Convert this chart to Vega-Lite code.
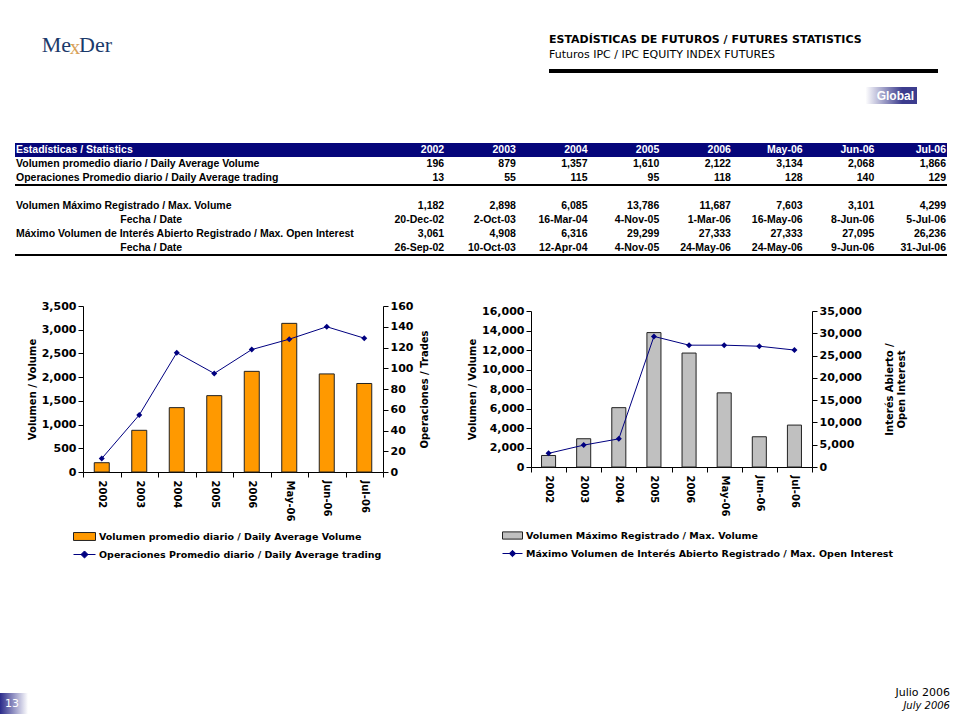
{
  "$schema": "https://vega.github.io/schema/vega-lite/v6.json",
  "background": "white",
  "padding": {"left": 0, "top": 34, "right": 0, "bottom": 0},
  "config": {
    "view": {"stroke": null},
    "font": "DejaVu Sans",
    "axis": {"labelFont": "DejaVu Sans", "labelFontWeight": "bold", "labelFontSize": 11, "labelColor": "black", "titleFont": "DejaVu Sans", "titleFontWeight": "bold", "titleFontSize": 10, "titleColor": "black", "domainColor": "black", "tickColor": "black", "tickSize": 5, "grid": false, "labelPadding": 2, "titlePadding": 4},
    "legend": {"labelFont": "DejaVu Sans", "labelFontWeight": "bold", "labelFontSize": 9.5, "labelColor": "black", "padding": 0, "labelOffset": 3, "labelLimit": 600}
  },
  "datasets": {
    "stats": [
      {"cat": "2002", "vol": 196, "ops": 13, "maxvol": 1182, "maxoi": 3061},
      {"cat": "2003", "vol": 879, "ops": 55, "maxvol": 2898, "maxoi": 4908},
      {"cat": "2004", "vol": 1357, "ops": 115, "maxvol": 6085, "maxoi": 6316},
      {"cat": "2005", "vol": 1610, "ops": 95, "maxvol": 13786, "maxoi": 29299},
      {"cat": "2006", "vol": 2122, "ops": 118, "maxvol": 11687, "maxoi": 27333},
      {"cat": "May-06", "vol": 3134, "ops": 128, "maxvol": 7603, "maxoi": 27333},
      {"cat": "Jun-06", "vol": 2068, "ops": 140, "maxvol": 3101, "maxoi": 27095},
      {"cat": "Jul-06", "vol": 1866, "ops": 129, "maxvol": 4299, "maxoi": 26236}
    ],
    "tbl": [
      {"row": "h", "lab": "Estadísticas / Statistics", "2002": "2002", "2003": "2003", "2004": "2004", "2005": "2005", "2006": "2006", "May-06": "May-06", "Jun-06": "Jun-06", "Jul-06": "Jul-06"},
      {"row": "r1", "lab": "Volumen promedio diario / Daily Average Volume", "2002": "196", "2003": "879", "2004": "1,357", "2005": "1,610", "2006": "2,122", "May-06": "3,134", "Jun-06": "2,068", "Jul-06": "1,866"},
      {"row": "r2", "lab": "Operaciones Promedio diario / Daily Average trading", "2002": "13", "2003": "55", "2004": "115", "2005": "95", "2006": "118", "May-06": "128", "Jun-06": "140", "Jul-06": "129"},
      {"row": "r3", "lab": "Volumen Máximo Registrado / Max. Volume", "2002": "1,182", "2003": "2,898", "2004": "6,085", "2005": "13,786", "2006": "11,687", "May-06": "7,603", "Jun-06": "3,101", "Jul-06": "4,299"},
      {"row": "r4", "lab": "Fecha / Date", "2002": "20-Dec-02", "2003": "2-Oct-03", "2004": "16-Mar-04", "2005": "4-Nov-05", "2006": "1-Mar-06", "May-06": "16-May-06", "Jun-06": "8-Jun-06", "Jul-06": "5-Jul-06"},
      {"row": "r5", "lab": "Máximo Volumen de Interés Abierto Registrado / Max. Open Interest", "2002": "3,061", "2003": "4,908", "2004": "6,316", "2005": "29,299", "2006": "27,333", "May-06": "27,333", "Jun-06": "27,095", "Jul-06": "26,236"},
      {"row": "r6", "lab": "Fecha / Date", "2002": "26-Sep-02", "2003": "10-Oct-03", "2004": "12-Apr-04", "2005": "4-Nov-05", "2006": "24-May-06", "May-06": "24-May-06", "Jun-06": "9-Jun-06", "Jul-06": "31-Jul-06"}
    ]
  },
  "spacing": 39,
  "vconcat": [
    {
      "spacing": 399,
      "hconcat": [
        {
          "width": 150, "height": 24,
          "data": {"values": [{"a": "Me", "b": "x", "c": "Der"}]},
          "layer": [
            {"mark": {"type": "text", "font": "Liberation Serif", "fontSize": 22, "color": "#1B3A6B", "align": "right", "dx": -4, "dy": -36}, "encoding": {"text": {"field": "a"}}},
            {"mark": {"type": "text", "font": "Liberation Serif", "fontSize": 21, "color": "#D9A25A", "align": "center", "dy": -33}, "encoding": {"text": {"field": "b"}}},
            {"mark": {"type": "text", "font": "Liberation Serif", "fontSize": 22, "color": "#1B3A6B", "align": "left", "dx": 4, "dy": -36}, "encoding": {"text": {"field": "c"}}}
          ]
        },
        {
          "spacing": 14,
          "vconcat": [
            {
              "width": 389, "height": 4,
              "title": {"text": "ESTADÍSTICAS DE FUTUROS / FUTURES STATISTICS", "subtitle": "Futuros IPC / IPC EQUITY INDEX FUTURES", "anchor": "start", "font": "DejaVu Sans", "fontSize": 11, "fontWeight": "bold", "color": "black", "subtitleFont": "DejaVu Sans", "subtitleFontSize": 11, "subtitleColor": "black", "subtitlePadding": 4, "offset": 9},
              "data": {"values": [{"k": 1}]},
              "mark": {"type": "bar", "color": "black"},
              "encoding": {}
            },
            {
              "width": 368, "height": 17,
              "data": {"values": [{"t": "Global"}]},
              "layer": [
                {"mark": {"type": "bar", "color": {"gradient": "linear", "x1": 0, "y1": 0, "x2": 1, "y2": 0, "stops": [{"offset": 0, "color": "#ffffff"}, {"offset": 0.86, "color": "#ffffff"}, {"offset": 0.96, "color": "#3C3C8E"}, {"offset": 1, "color": "#3C3C8E"}]}}, "encoding": {}},
                {"mark": {"type": "text", "align": "right", "dx": -3, "color": "white", "fontWeight": "bold", "fontSize": 12, "font": "Liberation Sans"}, "encoding": {"x": {"value": "width"}, "text": {"field": "t"}}}
              ]
            }
          ]
        }
      ]
    },
    {
      "spacing": 44,
      "vconcat": [
        {
          "spacing": 13,
          "hconcat": [
            {"width": 1, "height": 1, "data": {"values": []}, "mark": "text", "encoding": {}},
            {
              "width": 932, "height": 112,
              "data": {"name": "tbl"},
              "encoding": {"y": {"field": "row", "type": "nominal", "scale": {"type": "band", "domain": ["h", "r1", "r2", "b", "r3", "r4", "r5", "r6"], "paddingInner": 0, "paddingOuter": 0}, "axis": null}},
              "layer": [
                {"transform": [{"filter": "datum.row === 'h'"}], "mark": {"type": "bar", "color": "#06067A"}},
                {"transform": [{"filter": "datum.row === 'r2' || datum.row === 'r6'"}], "mark": {"type": "rule", "strokeWidth": 2, "color": "black"}, "encoding": {"y": {"field": "row", "type": "nominal", "bandPosition": 1}}},
                {
                  "transform": [{"filter": "datum.row !== 'r4' && datum.row !== 'r6'"}],
                  "mark": {"type": "text", "align": "left", "dx": 1, "font": "Liberation Sans", "fontWeight": "bold", "fontSize": 10.5},
                  "encoding": {
                    "x": {"datum": "lab", "type": "nominal", "bandPosition": 0, "axis": null, "scale": {"type": "band", "domain": ["lab", "fecha", "s1", "s2", "s3", "2002", "2003", "2004", "2005", "2006", "May-06", "Jun-06", "Jul-06"], "paddingInner": 0, "paddingOuter": 0}},
                    "text": {"field": "lab"},
                    "color": {"condition": {"test": "datum.row === 'h'", "value": "white"}, "value": "black"}
                  }
                },
                {
                  "transform": [{"filter": "datum.row === 'r4' || datum.row === 'r6'"}],
                  "mark": {"type": "text", "align": "center", "font": "Liberation Sans", "fontWeight": "bold", "fontSize": 10.5, "color": "black"},
                  "encoding": {
                    "x": {"datum": "fecha", "type": "nominal", "bandPosition": 0.9, "axis": null, "scale": {"type": "band", "domain": ["lab", "fecha", "s1", "s2", "s3", "2002", "2003", "2004", "2005", "2006", "May-06", "Jun-06", "Jul-06"], "paddingInner": 0, "paddingOuter": 0}},
                    "text": {"field": "lab"}
                  }
                },
                {
                  "transform": [{"fold": ["2002", "2003", "2004", "2005", "2006", "May-06", "Jun-06", "Jul-06"], "as": ["col", "val"]}],
                  "mark": {"type": "text", "align": "right", "dx": -1, "font": "Liberation Sans", "fontWeight": "bold", "fontSize": 10.5},
                  "encoding": {
                    "x": {"field": "col", "type": "nominal", "bandPosition": 1, "axis": null, "scale": {"type": "band", "domain": ["lab", "fecha", "s1", "s2", "s3", "2002", "2003", "2004", "2005", "2006", "May-06", "Jun-06", "Jul-06"], "paddingInner": 0, "paddingOuter": 0}},
                    "text": {"field": "val"},
                    "color": {"condition": {"test": "datum.row === 'h'", "value": "white"}, "value": "black"}
                  }
                }
              ]
            }
          ]
        },
        {
          "spacing": 126,
          "vconcat": [
            {
              "spacing": 26,
              "hconcat": [
                {"width": 1, "height": 1, "data": {"values": []}, "mark": "text", "encoding": {}},
                {
                  "spacing": 37,
                  "resolve": {"scale": {"fill": "independent", "color": "independent", "x": "independent", "y": "independent"}, "legend": {"fill": "independent", "color": "independent"}},
                  "hconcat": [
                    {
                      "width": 300, "height": 166,
                      "data": {"name": "stats"},
                      "encoding": {"x": {"field": "cat", "type": "nominal", "sort": null, "scale": {"type": "band", "paddingInner": 0, "paddingOuter": 0}, "axis": {"title": null, "labelAngle": 90, "tickBand": "extent", "labelFontSize": 10, "labelPadding": 3}}},
                      "layer": [
                        {
                          "mark": {"type": "bar", "width": {"band": 0.4}, "stroke": "#222222", "strokeWidth": 1},
                          "encoding": {
                            "y": {"field": "vol", "type": "quantitative", "scale": {"domain": [0, 3500]}, "axis": {"title": "Volumen / Volume", "values": [0, 500, 1000, 1500, 2000, 2500, 3000, 3500], "format": ",d"}},
                            "fill": {"datum": "Volumen promedio diario / Daily Average Volume", "type": "nominal", "scale": {"range": ["#FF9900"]}, "legend": {"orient": "none", "legendX": -10, "legendY": 219, "title": null, "symbolType": "M-1,-0.36H1V0.36H-1Z", "symbolSize": 484, "symbolStrokeColor": "#222222", "symbolStrokeWidth": 1}}
                          }
                        },
                        {
                          "mark": {"type": "line", "strokeWidth": 1, "point": {"filled": true, "shape": "diamond", "size": 36}},
                          "encoding": {
                            "y": {"field": "ops", "type": "quantitative", "scale": {"domain": [0, 160]}, "axis": {"orient": "right", "title": "Operaciones / Trades", "values": [0, 20, 40, 60, 80, 100, 120, 140, 160], "format": "d", "titleAngle": 270, "titleBaseline": "top", "titlePadding": 7}},
                            "color": {"datum": "Operaciones Promedio diario / Daily Average trading", "type": "nominal", "scale": {"range": ["#000080"]}, "legend": {"orient": "none", "legendX": -10, "legendY": 237, "title": null, "symbolType": "M-1,0H1M0,-0.32L0.32,0L0,0.32L-0.32,0Z", "symbolSize": 484, "symbolStrokeWidth": 1, "symbolFillColor": "#000080"}}
                          }
                        }
                      ],
                      "resolve": {"scale": {"y": "independent"}}
                    },
                    {
                      "spacing": -2,
                      "resolve": {"scale": {"fill": "independent", "color": "independent"}, "legend": {"fill": "independent", "color": "independent"}},
                      "vconcat": [
                        {"width": 1, "height": 1, "data": {"values": []}, "mark": "text", "encoding": {}},
                        {
                          "width": 281, "height": 156,
                          "data": {"name": "stats"},
                          "encoding": {"x": {"field": "cat", "type": "nominal", "sort": null, "scale": {"type": "band", "paddingInner": 0, "paddingOuter": 0}, "axis": {"title": null, "labelAngle": 90, "tickBand": "extent", "labelFontSize": 10, "labelPadding": 3}}},
                          "layer": [
                            {
                              "mark": {"type": "bar", "width": {"band": 0.4}, "stroke": "#222222", "strokeWidth": 1},
                              "encoding": {
                                "y": {"field": "maxvol", "type": "quantitative", "scale": {"domain": [0, 16000]}, "axis": {"title": "Volumen / Volume", "values": [0, 2000, 4000, 6000, 8000, 10000, 12000, 14000, 16000], "format": ",d"}},
                                "fill": {"datum": "Volumen Máximo Registrado / Max. Volume", "type": "nominal", "scale": {"range": ["#C0C0C0"]}, "legend": {"orient": "none", "legendX": -29, "legendY": 214, "title": null, "symbolType": "M-1,-0.36H1V0.36H-1Z", "symbolSize": 400, "symbolStrokeColor": "#222222", "symbolStrokeWidth": 1}}
                              }
                            },
                            {
                              "mark": {"type": "line", "strokeWidth": 1, "point": {"filled": true, "shape": "diamond", "size": 36}},
                              "encoding": {
                                "y": {"field": "maxoi", "type": "quantitative", "scale": {"domain": [0, 35000]}, "axis": {"orient": "right", "title": ["Interés Abierto /", "Open Interest"], "values": [0, 5000, 10000, 15000, 20000, 25000, 30000, 35000], "format": ",d", "titleAngle": 270, "titleBaseline": "top", "titlePadding": 11}},
                                "color": {"datum": "Máximo Volumen de Interés Abierto Registrado / Max. Open Interest", "type": "nominal", "scale": {"range": ["#000080"]}, "legend": {"orient": "none", "legendX": -29, "legendY": 232, "title": null, "symbolType": "M-1,0H1M0,-0.32L0.32,0L0,0.32L-0.32,0Z", "symbolSize": 400, "symbolStrokeWidth": 1, "symbolFillColor": "#000080"}}
                              }
                            }
                          ],
                          "resolve": {"scale": {"y": "independent"}}
                        }
                      ]
                    }
                  ]
                }
              ]
            },
            {
              "spacing": 0,
              "bounds": "flush",
              "hconcat": [
                {
                  "width": 28, "height": 21,
                  "data": {"values": [{"t": "13"}]},
                  "layer": [
                    {"mark": {"type": "bar", "color": {"gradient": "linear", "x1": 0, "y1": 0, "x2": 1, "y2": 0, "stops": [{"offset": 0, "color": "#2B2B8A"}, {"offset": 1, "color": "#ffffff"}]}}, "encoding": {}},
                    {"mark": {"type": "text", "color": "white", "fontSize": 11, "font": "DejaVu Sans", "dx": -2}, "encoding": {"text": {"field": "t"}}}
                  ]
                },
                {
                  "width": 922, "height": 13,
                  "data": {"values": [{"line": "Julio 2006"}, {"line": "July 2006"}]},
                  "encoding": {
                    "y": {"field": "line", "type": "nominal", "scale": {"type": "point", "padding": 0, "domain": ["Julio 2006", "July 2006"]}, "axis": null},
                    "x": {"value": "width"},
                    "text": {"field": "line"}
                  },
                  "layer": [
                    {"transform": [{"filter": "datum.line === 'Julio 2006'"}], "mark": {"type": "text", "align": "right", "font": "DejaVu Sans", "fontSize": 11, "color": "black"}},
                    {"transform": [{"filter": "datum.line === 'July 2006'"}], "mark": {"type": "text", "align": "right", "font": "DejaVu Sans", "fontStyle": "italic", "fontSize": 10, "color": "black"}}
                  ]
                }
              ]
            }
          ]
        }
      ]
    }
  ]
}
